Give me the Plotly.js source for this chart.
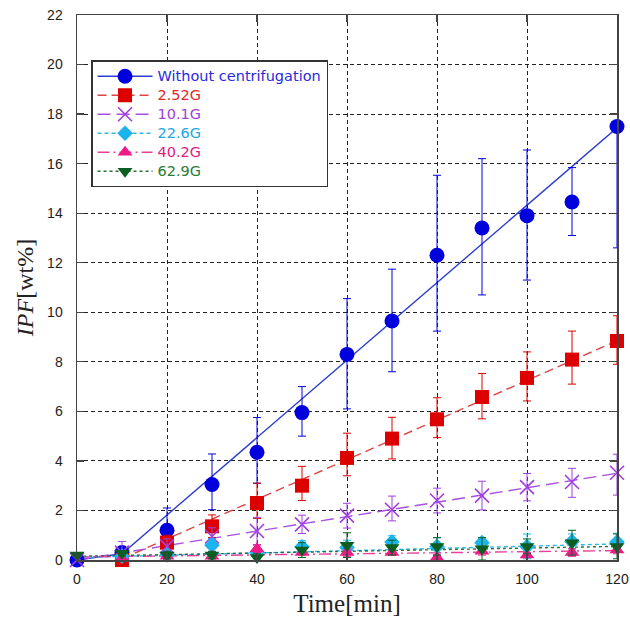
<!DOCTYPE html>
<html>
<head>
<meta charset="utf-8">
<script src="https://cdn.plot.ly/plotly-3.0.1.min.js"></script>
<style>html,body{margin:0;padding:0;background:#fff;}#chart{width:630px;height:622px;}</style>
</head>
<body>
<div id="chart"></div>
<script>
// ---- data ----
var time = [0, 10, 20, 30, 40, 50, 60, 70, 80, 90, 100, 110, 120];

var names = ["Without centrifugation", "2.52G", "10.1G", "22.6G", "40.2G", "62.9G"];

var withoutY     = [0.0, 0.3, 1.2, 3.05, 4.35, 5.95, 8.3, 9.65, 12.3, 13.4, 13.9, 14.45, 17.5];
var withoutPlus  = [0.0, 0.2, 0.9, 1.23, 1.4, 1.05, 2.25, 2.09, 3.23, 2.8, 2.65, 1.39, 0.0];
var withoutMinus = [0.0, 0.2, 0.9, 1.02, 1.25, 0.95, 2.2, 2.05, 3.06, 2.7, 2.6, 1.35, 4.9];

var g252Y     = [-0.05, 0.0, 0.7, 1.36, 2.3, 3.0, 4.12, 4.9, 5.68, 6.58, 7.35, 8.09, 8.84];
var g252Plus  = [0.0, 0.1, 0.3, 0.46, 0.8, 0.78, 1.0, 0.86, 0.87, 0.95, 1.05, 1.15, 1.02];
var g252Minus = [0.0, 0.1, 0.3, 0.45, 0.62, 0.6, 0.72, 0.82, 0.74, 0.88, 0.93, 0.99, 0.94];

var g101Y     = [0.0, 0.3, 0.55, 0.95, 1.17, 1.44, 1.79, 2.03, 2.4, 2.6, 2.94, 3.15, 3.52];
var g101Plus  = [0.0, 0.45, 0.3, 0.35, 0.55, 0.37, 0.5, 0.55, 0.5, 0.58, 0.55, 0.55, 0.75];
var g101Minus = [0.0, 0.2, 0.3, 0.35, 0.55, 0.37, 0.5, 0.45, 0.5, 0.58, 0.55, 0.62, 0.9];

var g226Y   = [-0.05, 0.15, 0.2, 0.6, 0.3, 0.53, 0.5, 0.73, 0.55, 0.7, 0.55, 0.75, 0.73];
var g226Err = [0.0, 0.1, 0.15, 0.25, 0.2, 0.25, 0.3, 0.25, 0.35, 0.2, 0.5, 0.3, 0.35];

var g402Y   = [-0.1, 0.05, 0.15, 0.15, 0.45, 0.3, 0.3, 0.3, 0.1, 0.35, 0.2, 0.3, 0.4];
var g402Err = [0.0, 0.1, 0.1, 0.1, 0.15, 0.1, 0.15, 0.1, 0.1, 0.15, 0.1, 0.15, 0.15];

var g629Y   = [0.2, 0.27, 0.2, 0.2, 0.1, 0.4, 0.6, 0.5, 0.55, 0.45, 0.55, 0.7, 0.55];
var g629Err = [0.0, 0.1, 0.15, 0.15, 0.15, 0.3, 0.5, 0.3, 0.35, 0.45, 0.3, 0.5, 0.5];

// fitted trend lines
var withoutFitX = [0, 10, 120], withoutFitY = [0.0, 0.25, 17.45];
var g252FitX = [10, 120],       g252FitY = [0.05, 8.85];
var g101FitX = [0, 120],        g101FitY = [0.0, 3.5];
var g226FitX = [0, 120],        g226FitY = [0.1, 0.65];
var g402FitX = [0, 120],        g402FitY = [0.12, 0.38];
var g629FitX = [0, 120],        g629FitY = [0.15, 0.55];

var xTicks = [0, 20, 40, 60, 80, 100, 120];
var yTicks = [0, 2, 4, 6, 8, 10, 12, 14, 16, 18, 20, 22];

// ---- build ----
function spread(a) { // isolate points with nulls so the legend shows a line sample but no segments are drawn
  var out = [];
  a.forEach(function (v, i) { out.push(v); if (i < a.length - 1) out.push(null); });
  return out;
}

var styles = [
  {c: '#0000DD', lc: '#2D3FD0', tc: '#2A2AE0', sym: 'circle', size: 15, dash: 'solid'},
  {c: '#DD0000', lc: '#E04545', tc: '#E02828', sym: 'square', size: 14, dash: '9px,5px'},
  {c: '#A040E0', lc: '#A850E0', tc: '#A040D8', sym: 'x-thin', size: 14, dash: '13px,6px'},
  {c: '#1CB4EC', lc: '#30B8E8', tc: '#20A8E0', sym: 'diamond', size: 12, dash: '4px,3px'},
  {c: '#EE1A88', lc: '#E8409A', tc: '#E02080', sym: 'triangle-up', size: 13, dash: '12px,4px,2px,4px'},
  {c: '#0A5E22', lc: '#2E6E3A', tc: '#2A7A38', sym: 'triangle-down', size: 13, dash: '3px,3px'}
];
var ys = [withoutY, g252Y, g101Y, g226Y, g402Y, g629Y];
var plus = [withoutPlus, g252Plus, g101Plus, g226Err, g402Err, g629Err];
var minus = [withoutMinus, g252Minus, g101Minus, g226Err, g402Err, g629Err];
var fitX = [withoutFitX, g252FitX, g101FitX, g226FitX, g402FitX, g629FitX];
var fitY = [withoutFitY, g252FitY, g101FitY, g226FitY, g402FitY, g629FitY];

var traces = [];
for (var i = 0; i < 6; i++) {
  var s = styles[i];
  traces.push({
    x: fitX[i], y: fitY[i], type: 'scatter', mode: 'lines',
    line: {color: s.lc, width: 1.4, dash: s.dash},
    showlegend: false, hoverinfo: 'skip', legendgroup: 'g' + i
  });
}
for (var i = 0; i < 6; i++) {
  var s = styles[i];
  var m = {color: s.c, symbol: s.sym, size: s.size};
  if (s.sym === 'x-thin') m.line = {color: s.c, width: 1.6};
  traces.push({
    x: spread(time), y: spread(ys[i]), type: 'scatter', mode: 'lines+markers',
    name: '<span style="color:' + s.tc + ';font-size:14.5px">' + names[i] + '</span>',
    legendgroup: 'g' + i,
    connectgaps: false,
    line: {color: s.lc, width: 1.4, dash: s.dash},
    marker: m,
    cliponaxis: false,
    error_y: {type: 'data', symmetric: false, array: spread(plus[i]), arrayminus: spread(minus[i]),
              color: s.c, thickness: 1, width: 4}
  });
}

var layout = {
  width: 630, height: 622,
  margin: {l: 77, r: 13, t: 15, b: 62},
  paper_bgcolor: '#fff', plot_bgcolor: '#fff',
  font: {family: 'Liberation Sans, Arial, sans-serif', size: 14, color: '#222'},
  showlegend: true,
  legend: {
    x: 0.026, y: 0.917, xanchor: 'left', yanchor: 'top',
    bgcolor: '#fff', bordercolor: '#333', borderwidth: 1.5,
    font: {family: 'DejaVu Sans, Verdana, sans-serif', size: 12},
    itemwidth: 55, tracegroupgap: 0, traceorder: 'normal'
  },
  xaxis: {
    range: [0, 120], tickvals: xTicks, ticktext: xTicks.map(String),
    showline: true, linecolor: '#444', linewidth: 1.5, mirror: 'allticks',
    ticks: 'inside', ticklen: 7, tickcolor: '#444', tickwidth: 1.2,
    showgrid: true, gridcolor: '#222', gridwidth: 1, griddash: '4px,3px',
    zeroline: false, ticklabelstandoff: 6, ticklabeloverflow: 'allow',
    tickfont: {size: 14, color: '#222'},
    title: {text: 'Time[min]', font: {family: 'Liberation Serif, Times New Roman, serif', size: 25, color: '#222'}, standoff: 8}
  },
  yaxis: {
    range: [0, 22], tickvals: yTicks, ticktext: yTicks.map(String),
    showline: true, linecolor: '#444', linewidth: 1.5, mirror: 'allticks',
    ticks: 'inside', ticklen: 7, tickcolor: '#444', tickwidth: 1.2,
    showgrid: true, gridcolor: '#222', gridwidth: 1, griddash: '4px,3px',
    zeroline: false, ticklabelstandoff: 10, ticklabeloverflow: 'allow',
    tickfont: {size: 14, color: '#222'},
    title: {text: '<i>IPF</i>[wt%]', font: {family: 'Liberation Serif, Times New Roman, serif', size: 24, color: '#222'}, standoff: 6}
  }
};

Plotly.newPlot('chart', traces, layout, {displayModeBar: false, staticPlot: true});
</script>
</body>
</html>
